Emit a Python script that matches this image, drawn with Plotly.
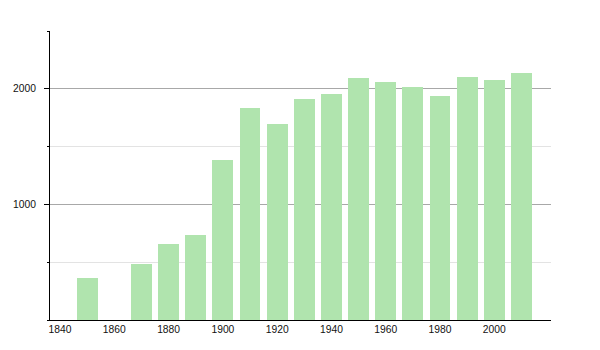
import plotly.graph_objects as go

years = [1850, 1870, 1880, 1890, 1900, 1910, 1920, 1930, 1940, 1950, 1960, 1970, 1980, 1990, 2000, 2010]
population = [362, 483, 658, 733, 1388, 1833, 1698, 1914, 1957, 2095, 2057, 2017, 1942, 2106, 2080, 2138]
x_tick_labels = [1840, 1860, 1880, 1900, 1920, 1940, 1960, 1980, 2000]
y_tick_labels = [1000, 2000]

fig = go.Figure()
fig.add_trace(go.Bar(
    x=years, y=population, width=7.7,
    marker=dict(color="#b0e4ae", line=dict(width=0)),
    hoverinfo="x+y",
))

fig.update_layout(
    width=600, height=350,
    margin=dict(l=50, r=49, t=31, b=30),
    paper_bgcolor="white", plot_bgcolor="white",
    showlegend=False,
    font=dict(family="Liberation Sans, Arial, sans-serif", size=10.3, color="#111"),
    bargap=0,
)
fig.update_xaxes(
    range=[1836.3, 2020.9],
    tickmode="array", tickvals=x_tick_labels, ticktext=[str(v) for v in x_tick_labels],
    showgrid=False, zeroline=False,
    showline=True, linecolor="black", linewidth=1,
    ticks="", ticklabelstandoff=0,
)
fig.update_yaxes(
    range=[0, 2500],
    tickmode="array", tickvals=y_tick_labels, ticktext=[str(v) for v in y_tick_labels],
    showgrid=True, gridcolor="#a8a8a8", gridwidth=1,
    zeroline=False,
    showline=True, linecolor="black", linewidth=1,
    ticks="outside", ticklen=5, tickcolor="black",
    ticklabelstandoff=6,
    minor=dict(tickmode="linear", tick0=0, dtick=500, ticks="outside", ticklen=2,
               tickcolor="black", showgrid=True, gridcolor="#e3e3e3", gridwidth=1),
)

fig.write_html("out.html")
